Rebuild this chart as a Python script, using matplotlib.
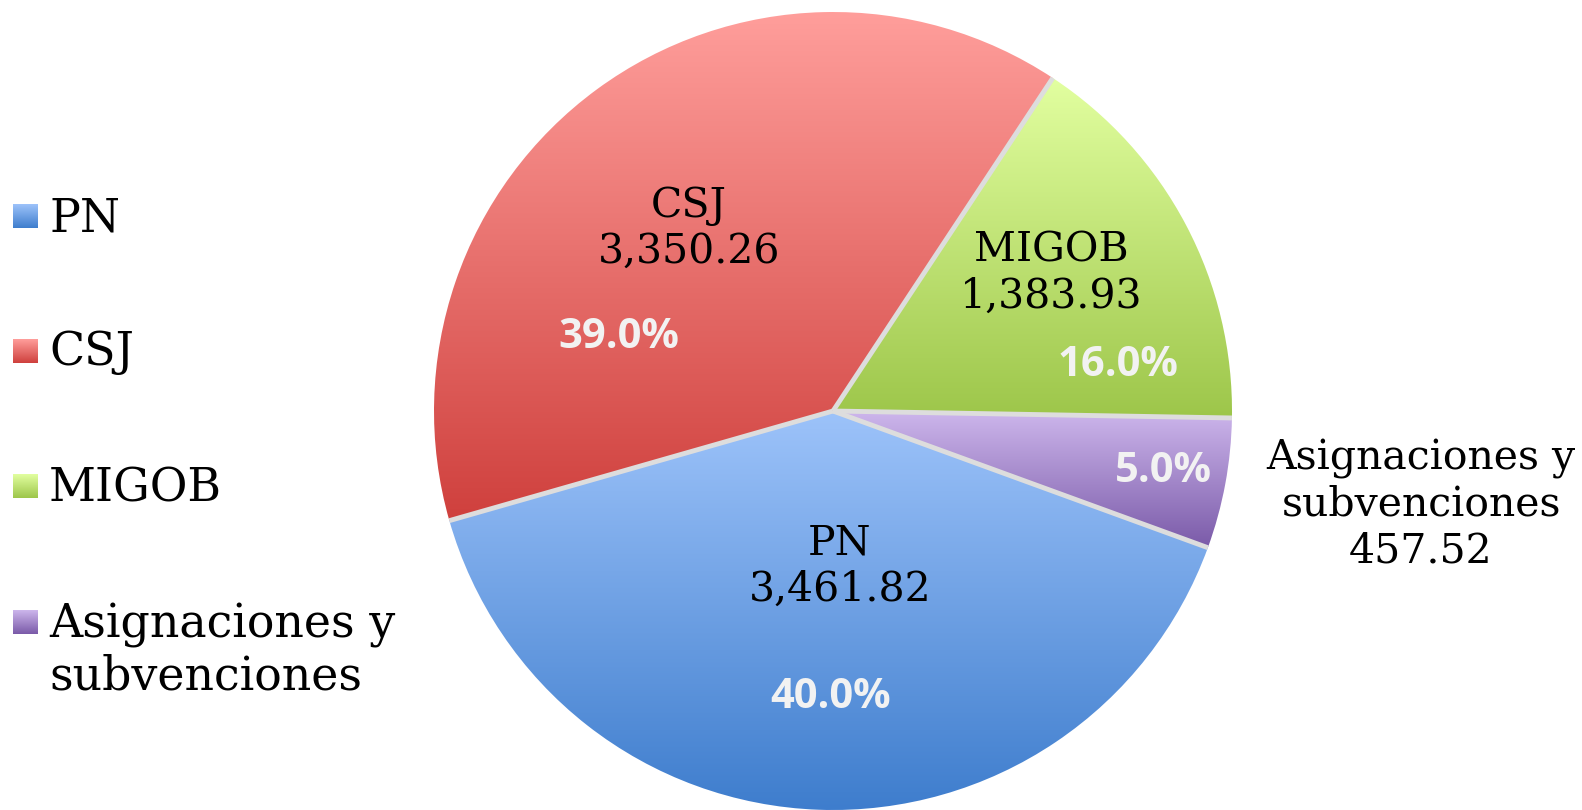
import numpy as np
import matplotlib
matplotlib.use("Agg")
import matplotlib.pyplot as plt
from matplotlib.colors import LinearSegmentedColormap

# datos del grafico
categorias = ["PN", "CSJ", "MIGOB", "Asignaciones y\nsubvenciones"]
valores = [3461.82, 3350.26, 1383.93, 457.52]
etiquetas_valor = ["3,461.82", "3,350.26", "1,383.93", "457.52"]
porcentajes = ["40.0%", "39.0%", "16.0%", "5.0%"]

# degradados (arriba, abajo)
colores = [("#9DC3FA", "#3E7DCD"),
           ("#FF9E9B", "#CF403D"),
           ("#E2FFA0", "#9DC64A"),
           ("#CDB6EC", "#7A5AA8")]

W, H = 1582, 810
fig = plt.figure(figsize=(W / 100, H / 100), dpi=100)
ax = fig.add_axes([0, 0, 1, 1])

cx, cy, r = 833, 399, 399
frac_asig = valores[3] / sum(valores)
inicio = -1 - 360 * frac_asig

wedges, _ = ax.pie(valores, center=(cx, cy), radius=r, startangle=inicio,
                   counterclock=False,
                   wedgeprops=dict(facecolor="none", edgecolor="none"))

grad = np.linspace(0, 1, 256).reshape(-1, 1)
for w, (c1, c2) in zip(wedges, colores):
    cmap = LinearSegmentedColormap.from_list("g", [c1, c2])
    ext = w.get_path().get_extents()
    im = ax.imshow(grad, cmap=cmap, aspect="auto", interpolation="bilinear",
                   extent=[ext.x0, ext.x1, ext.y0, ext.y1], origin="upper",
                   zorder=1)
    im.set_clip_path(w)

# lineas de separacion
for w in wedges:
    a = np.deg2rad(w.theta1)
    ax.plot([cx, cx + r * np.cos(a)], [cy, cy + r * np.sin(a)],
            color="#DDDDDD", lw=3.5, zorder=2, solid_capstyle="butt")

serif = "DejaVu Serif"
sans = "Open Sans"

def ty(y):
    return H - y

# etiquetas de nombre y valor
ax.text(840, ty(567), "PN\n" + etiquetas_valor[0], ha="center", va="center",
        fontsize=29.5, family=serif, zorder=3)
ax.text(689, ty(229), "CSJ\n" + etiquetas_valor[1], ha="center", va="center",
        fontsize=29.5, family=serif, zorder=3)
ax.text(1051, ty(274), "MIGOB\n" + etiquetas_valor[2], ha="center", va="center",
        fontsize=29.5, family=serif, zorder=3)
ax.text(1421, ty(505), categorias[3] + "\n" + etiquetas_valor[3], ha="center",
        va="center", fontsize=29.5, family=serif, zorder=3)

# porcentajes
pos_pct = [(831, 698), (619, 337), (1118, 365), (1163, 471)]
for (x, y), p in zip(pos_pct, porcentajes):
    ax.text(x, ty(y), p, ha="center", va="center", fontsize=30,
            family=sans, weight="bold", color="#F2F2F2", zorder=3)

# leyenda (base de la ultima linea de cada texto)
cuadros = [204, 339, 474, 610]
bases = [232, 365, 501, 690]
for (c1, c2), top, base, cat in zip(colores, cuadros, bases, categorias):
    cmap = LinearSegmentedColormap.from_list("g", [c1, c2])
    ax.imshow(grad, cmap=cmap, aspect="auto", interpolation="bilinear",
              extent=[13, 38, ty(top + 24), ty(top)], origin="upper", zorder=1)
    ax.text(49, ty(base), cat, ha="left", va="baseline", fontsize=33,
            family=serif, linespacing=1.2, zorder=3)

ax.set_xlim(0, W)
ax.set_ylim(0, H)
ax.set_aspect("auto")
ax.axis("off")

fig.savefig("out.png", dpi=100)
